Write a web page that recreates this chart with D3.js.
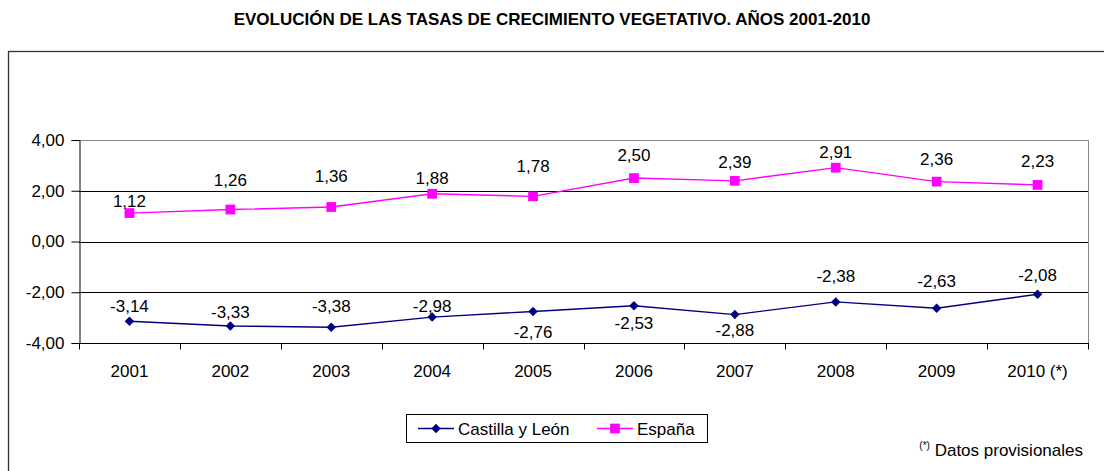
<!DOCTYPE html>
<meta charset="utf-8">
<title>Crecimiento vegetativo 2001-2010</title>
<style>
body {
  margin: 0;
  background: #fff;
  font-family: "Liberation Sans", Arial, sans-serif;
}
svg text { fill: #000; }
</style>
<body>
<script src="https://cdn.jsdelivr.net/npm/d3@7"></script>
<script>
'use strict';

const years = ["2001", "2002", "2003", "2004", "2005", "2006", "2007", "2008", "2009", "2010 (*)"];
const castilla = [-3.14, -3.33, -3.38, -2.98, -2.76, -2.53, -2.88, -2.38, -2.63, -2.08];
const espana = [1.12, 1.26, 1.36, 1.88, 1.78, 2.50, 2.39, 2.91, 2.36, 2.23];
const yTicks = [-4, -2, 0, 2, 4];

// where excel left each data label, relative to its marker (px)
const castillaLabelDy = [-15, -14, -21, -11, 20, 17, 15, -26, -27, -19];
const espanaLabelDy = [-12, -30, -31, -16, -30, -23, -19, -16, -23, -24];

const W = 1104, H = 471;
const plot = {left: 79, right: 1088, top: 140, bottom: 343};
const FS = "17px";

const fmt = (v) => v.toFixed(2).replace(".", ",");

const svg = d3.select("body").append("svg")
    .attr("width", W)
    .attr("height", H);

svg.append("text")
    .attr("x", 552)
    .attr("y", 25)
    .attr("text-anchor", "middle")
    .style("font-weight", "bold")
    .style("font-size", "17px")
    .text("EVOLUCIÓN DE LAS TASAS DE CRECIMIENTO VEGETATIVO. AÑOS 2001-2010");

// outer chart frame, runs off the right and bottom
svg.append("rect")
    .attr("x", 8.5).attr("y", 51.5)
    .attr("width", W).attr("height", H)
    .attr("fill", "none")
    .attr("stroke", "#333")
    .attr("stroke-width", 1.3);

const x = d3.scaleBand().domain(years).range([plot.left, plot.right]);
const y = d3.scaleLinear().domain([-4, 4]).range([plot.bottom, plot.top]);

// plot area border (gray top/right)
svg.append("path")
    .attr("d", `M${plot.left},${plot.top + 0.5}H${plot.right + 0.5}V${plot.bottom}`)
    .attr("fill", "none")
    .attr("stroke", "#888");

// gridlines
svg.append("g").selectAll("line")
    .data(yTicks.filter((t) => t > -4 && t < 4))
  .enter().append("line")
    .attr("x1", plot.left).attr("x2", plot.right)
    .attr("y1", (d) => Math.round(y(d)) + 0.5)
    .attr("y2", (d) => Math.round(y(d)) + 0.5)
    .attr("stroke", "#000");

// y axis
const yAxis = svg.append("g")
    .attr("transform", `translate(${plot.left + 0.5},0)`)
    .call(d3.axisLeft(y).tickValues(yTicks).tickSize(8).tickPadding(7).tickFormat(fmt));
yAxis.select(".domain").attr("stroke", "#000");
yAxis.selectAll(".tick line").attr("stroke", "#000");
yAxis.selectAll(".tick text")
    .style("font-size", FS)
    .style("font-family", "Liberation Sans, Arial, sans-serif")
    .attr("fill", "#000");

// x axis, ticks between categories
const xAxis = svg.append("g")
    .attr("transform", `translate(0,${plot.bottom + 0.5})`);
xAxis.append("line")
    .attr("x1", plot.left).attr("x2", plot.right + 1)
    .attr("stroke", "#000");
xAxis.selectAll(".tk")
    .data(years.map((d) => x(d)).concat([plot.right]))
  .enter().append("line")
    .attr("class", "tk")
    .attr("x1", (d) => Math.round(d) + 0.5).attr("x2", (d) => Math.round(d) + 0.5)
    .attr("y1", 0).attr("y2", 6)
    .attr("stroke", "#000");
xAxis.selectAll("text")
    .data(years)
  .enter().append("text")
    .attr("x", (d) => x(d) + x.bandwidth() / 2)
    .attr("y", 33)
    .attr("text-anchor", "middle")
    .style("font-size", FS)
    .text((d) => d);

const cx = (i) => x(years[i]) + x.bandwidth() / 2;
const line = d3.line().x((d, i) => cx(i)).y((d) => y(d));

const series = [
  {name: "Castilla y León", values: castilla, color: "#000080", size: 45, rot: 45, dy: castillaLabelDy},
  {name: "España", values: espana, color: "#ff00ff", size: 95, rot: 0, dy: espanaLabelDy}
];
const marker = (s) => d3.symbol().type(d3.symbolSquare).size(s.size)();

series.forEach((s) => {
  const g = svg.append("g");
  g.append("path")
      .datum(s.values)
      .attr("d", line)
      .attr("fill", "none")
      .attr("stroke", s.color)
      .attr("stroke-width", 1.4);
  g.selectAll(".mk")
      .data(s.values)
    .enter().append("path")
      .attr("class", "mk")
      .attr("transform", (d, i) => `translate(${cx(i)},${y(d)}) rotate(${s.rot})`)
      .attr("d", marker(s))
      .attr("fill", s.color);
  g.selectAll(".lb")
      .data(s.values)
    .enter().append("text")
      .attr("class", "lb")
      .attr("x", (d, i) => cx(i))
      .attr("y", (d, i) => y(d) + s.dy[i] + 6)
      .attr("text-anchor", "middle")
      .style("font-size", FS)
      .text(fmt);
});

// legend
const legend = svg.append("g");
legend.append("rect")
    .attr("x", 406.5).attr("y", 414.5)
    .attr("width", 301).attr("height", 28)
    .attr("fill", "#fff")
    .attr("stroke", "#000");
const legX = [418, 597];
const legTextX = [458, 637];
series.forEach((s, i) => {
  legend.append("line")
      .attr("x1", legX[i]).attr("x2", legX[i] + 36)
      .attr("y1", 428.5).attr("y2", 428.5)
      .attr("stroke", s.color)
      .attr("stroke-width", 1.4);
  legend.append("path")
      .attr("transform", `translate(${legX[i] + 18},428.5) rotate(${s.rot})`)
      .attr("d", marker(s))
      .attr("fill", s.color);
  legend.append("text")
      .attr("x", legTextX[i])
      .attr("y", 434.5)
      .style("font-size", FS)
      .text(s.name);
});

// footnote
const note = svg.append("text")
    .attr("x", 1083)
    .attr("y", 456)
    .attr("text-anchor", "end")
    .style("font-size", FS);
note.append("tspan")
    .attr("dy", -7)
    .style("font-size", "10px")
    .text("(*)");
note.append("tspan")
    .attr("dy", 7)
    .text(" Datos provisionales");
</script>
</body>
